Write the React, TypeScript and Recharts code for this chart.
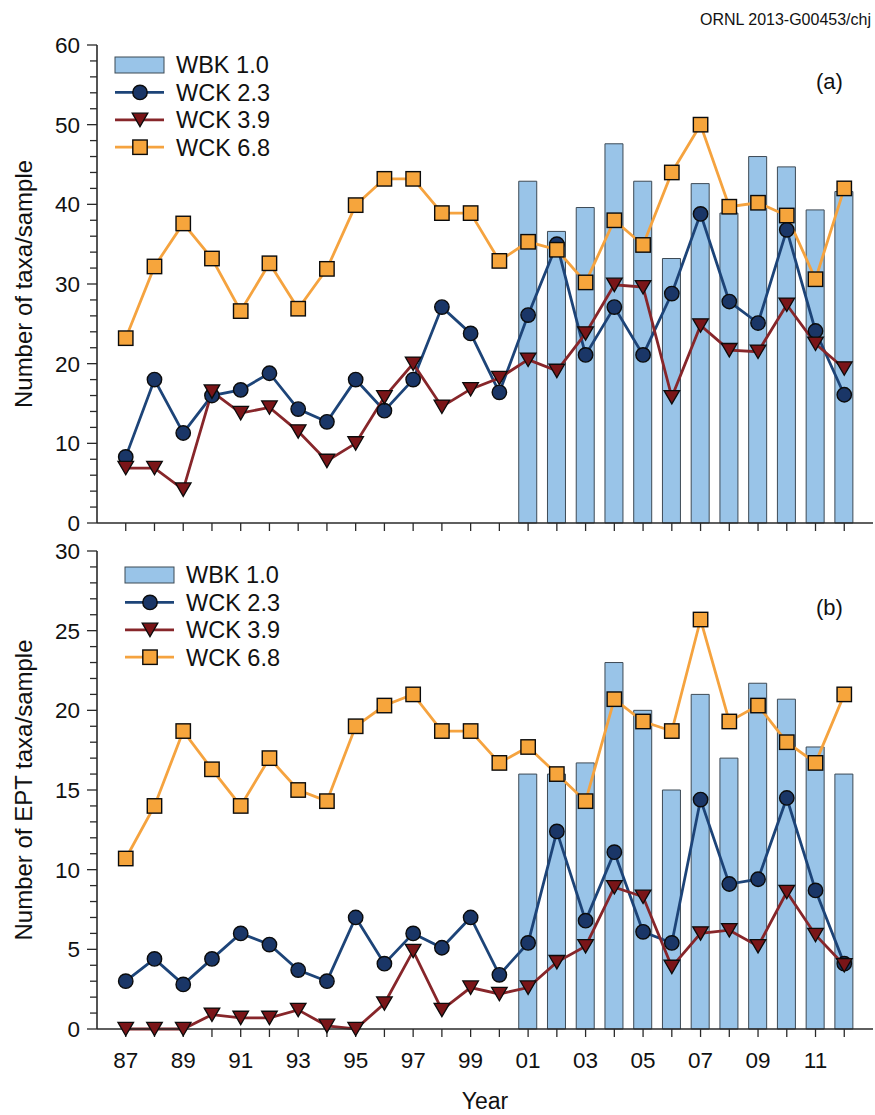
import React from 'react';
import { ComposedChart, Bar, Line, XAxis, YAxis, Legend } from 'recharts';

// Sampling years, 1987–2012
const years = [
  1987, 1988, 1989, 1990, 1991, 1992, 1993, 1994, 1995, 1996, 1997, 1998, 1999,
  2000, 2001, 2002, 2003, 2004, 2005, 2006, 2007, 2008, 2009, 2010, 2011, 2012,
];

// (a) total taxa per sample
const wbkTaxa = [
  null, null, null, null, null, null, null, null, null, null, null, null, null, null,
  42.9, 36.6, 39.6, 47.6, 42.9, 33.2, 42.6, 38.9, 46.0, 44.7, 39.3, 41.6,
];
const wck23Taxa = [
  8.3, 18.0, 11.3, 16.0, 16.7, 18.8, 14.3, 12.7, 18.0, 14.1, 18.0, 27.1, 23.8,
  16.4, 26.1, 35.0, 21.1, 27.1, 21.1, 28.8, 38.8, 27.8, 25.1, 36.8, 24.1, 16.1,
];
const wck39Taxa = [
  6.9, 6.9, 4.2, 16.5, 13.8, 14.5, 11.5, 7.8, 10.0, 15.8, 20.0, 14.6, 16.8,
  18.2, 20.5, 19.1, 23.8, 29.9, 29.6, 15.8, 24.8, 21.7, 21.5, 27.4, 22.5, 19.4,
];
const wck68Taxa = [
  23.2, 32.2, 37.6, 33.2, 26.6, 32.6, 26.9, 31.9, 39.9, 43.2, 43.2, 38.9, 38.9,
  32.9, 35.3, 34.3, 30.2, 38.0, 34.9, 44.0, 50.0, 39.7, 40.2, 38.6, 30.6, 42.0,
];

// (b) EPT taxa per sample
const wbkEpt = [
  null, null, null, null, null, null, null, null, null, null, null, null, null, null,
  16.0, 16.0, 16.7, 23.0, 20.0, 15.0, 21.0, 17.0, 21.7, 20.7, 17.7, 16.0,
];
const wck23Ept = [
  3.0, 4.4, 2.8, 4.4, 6.0, 5.3, 3.7, 3.0, 7.0, 4.1, 6.0, 5.1, 7.0,
  3.4, 5.4, 12.4, 6.8, 11.1, 6.1, 5.4, 14.4, 9.1, 9.4, 14.5, 8.7, 4.1,
];
const wck39Ept = [
  0, 0, 0, 0.9, 0.7, 0.7, 1.2, 0.2, 0, 1.6, 4.9, 1.2, 2.6,
  2.2, 2.6, 4.2, 5.2, 8.9, 8.3, 3.9, 6.0, 6.2, 5.2, 8.6, 5.9, 4.0,
];
const wck68Ept = [
  10.7, 14.0, 18.7, 16.3, 14.0, 17.0, 15.0, 14.3, 19.0, 20.3, 21.0, 18.7, 18.7,
  16.7, 17.7, 16.0, 14.3, 20.7, 19.3, 18.7, 25.7, 19.3, 20.3, 18.0, 16.7, 21.0,
];

// y ticks (majors get a label)
const taxaTicks = [
  0, 2, 4, 6, 8, 10, 12, 14, 16, 18, 20, 22, 24, 26, 28, 30,
  32, 34, 36, 38, 40, 42, 44, 46, 48, 50, 52, 54, 56, 58, 60,
];
const eptTicks = [
  0, 1, 2, 3, 4, 5, 6, 7, 8, 9, 10, 11, 12, 13, 14, 15,
  16, 17, 18, 19, 20, 21, 22, 23, 24, 25, 26, 27, 28, 29, 30,
];

const FONT = 'Arial, "Liberation Sans", Helvetica, sans-serif';
const INK = '#111';
const AXIS = '#2a2a2a';

const BAR_FILL = '#99c4e8';
const NAVY = '#1d4478';
const MAROON = '#87262a';
const ORANGE = '#f5a33f';

const circleDot = (p: any) =>
  p.cx == null || p.cy == null ? <g key={`c${p.index}`} /> : (
    <circle key={`c${p.index}`} cx={p.cx} cy={p.cy} r={7.2} fill="#1a3667" stroke="#0b0b0b" strokeWidth={1.4} />
  );

const triangleDot = (p: any) =>
  p.cx == null || p.cy == null ? <g key={`t${p.index}`} /> : (
    <polygon
      key={`t${p.index}`}
      points={`${p.cx - 7.8},${p.cy - 6.6} ${p.cx + 7.8},${p.cy - 6.6} ${p.cx},${p.cy + 6.8}`}
      fill="#7a1518"
      stroke="#0b0b0b"
      strokeWidth={1.3}
    />
  );

const squareDot = (p: any) =>
  p.cx == null || p.cy == null ? <g key={`s${p.index}`} /> : (
    <rect key={`s${p.index}`} x={p.cx - 7.2} y={p.cy - 7.2} width={14.4} height={14.4} fill="#f6a53c" stroke="#0b0b0b" strokeWidth={1.4} />
  );

const legendRows = [
  { name: 'WBK 1.0', kind: 'bar' },
  { name: 'WCK 2.3', kind: 'circle', color: NAVY },
  { name: 'WCK 3.9', kind: 'triangle', color: MAROON },
  { name: 'WCK 6.8', kind: 'square', color: ORANGE },
];

const LegendBox = () => (
  <svg width={200} height={115} style={{ display: 'block', overflow: 'visible' }}>
    {legendRows.map((row, i) => {
      const cy = 15 + i * 27.4;
      const mid = 30;
      let symbol: React.ReactNode;
      if (row.kind === 'bar') {
        symbol = <rect x={5} y={cy - 8} width={49} height={16} fill={BAR_FILL} stroke="#3d4a55" strokeWidth={1} />;
      } else {
        const marker =
          row.kind === 'circle' ? circleDot({ cx: mid, cy, index: 'l' })
          : row.kind === 'triangle' ? triangleDot({ cx: mid, cy, index: 'l' })
          : squareDot({ cx: mid, cy, index: 'l' });
        symbol = (
          <g>
            <line x1={5} x2={54} y1={cy} y2={cy} stroke={row.color} strokeWidth={2.8} />
            {marker}
          </g>
        );
      }
      return (
        <g key={row.name}>
          {symbol}
          <text x={66} y={cy} dy="0.36em" fontSize={23.5} fontFamily={FONT} fill={INK}>
            {row.name}
          </text>
        </g>
      );
    })}
  </svg>
);

// Left axis tick: long tick + label on majors, short tick on minors
const makeYTick = (major: number) => (props: any) => {
  const { x, y, payload } = props;
  const isMajor = Math.abs(payload.value % major) < 1e-9;
  return (
    <g>
      <line x1={x - (isMajor ? 10 : 7)} x2={x} y1={y} y2={y} stroke={AXIS} strokeWidth={1.3} />
      {isMajor && (
        <text x={x - 17} y={y} dy="0.36em" textAnchor="end" fontSize={22.5} fontFamily={FONT} fill={INK}>
          {payload.value}
        </text>
      )}
    </g>
  );
};

const yearLabel = (v: number) => (v % 2 === 1 ? String(v % 100).padStart(2, '0') : '');

interface PanelProps {
  wbk: (number | null)[];
  wck23: number[];
  wck39: number[];
  wck68: number[];
  yTicks: number[];
  major: number;
  yLabel: string;
  height: number;
  top: number;
  marginTop: number;
  xAxisHeight: number;
  showYears: boolean;
  legendTop: number;
  legendLeft: number;
}

const Panel = (p: PanelProps) => {
  const rows = years.map((year, i) => ({
    year,
    wbk: p.wbk[i],
    wck23: p.wck23[i],
    wck39: p.wck39[i],
    wck68: p.wck68[i],
  }));
  const yMax = p.yTicks[p.yTicks.length - 1];
  return (
    <div style={{ position: 'absolute', left: 0, top: p.top }}>
      <ComposedChart
        width={875}
        height={p.height}
        data={rows}
        margin={{ top: p.marginTop, right: 2, bottom: 0, left: 0 }}
      >
        <XAxis
          dataKey="year"
          type="number"
          domain={[1986, 2013]}
          ticks={years}
          interval={0}
          height={p.xAxisHeight}
          tickSize={8}
          tickMargin={15}
          tickFormatter={p.showYears ? yearLabel : () => ''}
          axisLine={{ stroke: AXIS, strokeWidth: 1.6 }}
          tickLine={{ stroke: AXIS, strokeWidth: 1.3 }}
          tick={{ fontSize: 22.5, fontFamily: FONT, fill: INK }}
          label={
            p.showYears
              ? { value: 'Year', position: 'insideBottom', offset: 6, fontSize: 23, fontFamily: FONT, fill: INK }
              : undefined
          }
        />
        <XAxis
          xAxisId="frameTop"
          orientation="top"
          type="number"
          domain={[1986, 2013]}
          height={0}
          tick={false}
          tickLine={false}
          axisLine={{ stroke: AXIS, strokeWidth: 1.6 }}
        />
        <YAxis
          type="number"
          domain={[0, yMax]}
          ticks={p.yTicks}
          interval={0}
          width={97}
          tickSize={0}
          tickMargin={0}
          tickLine={false}
          tick={makeYTick(p.major)}
          axisLine={{ stroke: AXIS, strokeWidth: 1.6 }}
          label={{
            value: p.yLabel,
            angle: -90,
            position: 'insideLeft',
            offset: 23,
            style: { textAnchor: 'middle' },
            fontSize: 24,
            fontFamily: FONT,
            fill: INK,
          }}
        />
        <YAxis
          yAxisId="frameRight"
          orientation="right"
          type="number"
          domain={[0, yMax]}
          width={0}
          tick={false}
          tickLine={false}
          axisLine={{ stroke: AXIS, strokeWidth: 1.6 }}
        />
        <Legend
          layout="vertical"
          align="center"
          verticalAlign="middle"
          content={<LegendBox />}
          wrapperStyle={{ top: p.legendTop, left: p.legendLeft, width: 'auto', height: 'auto' }}
        />
        <Bar
          dataKey="wbk"
          name="WBK 1.0"
          barSize={18}
          fill={BAR_FILL}
          stroke="#3d4a55"
          strokeWidth={1}
          isAnimationActive={false}
        />
        <Line
          dataKey="wck23"
          name="WCK 2.3"
          type="linear"
          stroke={NAVY}
          strokeWidth={2.8}
          dot={circleDot}
          activeDot={false}
          isAnimationActive={false}
        />
        <Line
          dataKey="wck39"
          name="WCK 3.9"
          type="linear"
          stroke={MAROON}
          strokeWidth={2.8}
          dot={triangleDot}
          activeDot={false}
          isAnimationActive={false}
        />
        <Line
          dataKey="wck68"
          name="WCK 6.8"
          type="linear"
          stroke={ORANGE}
          strokeWidth={2.8}
          dot={squareDot}
          activeDot={false}
          isAnimationActive={false}
        />
      </ComposedChart>
    </div>
  );
};

const tagStyle: React.CSSProperties = {
  position: 'absolute',
  fontFamily: FONT,
  fontSize: 22,
  color: INK,
  lineHeight: 1,
};

export default function App() {
  return (
    <div style={{ position: 'absolute', left: 0, top: 0, width: 875, height: 1115, background: '#fff' }}>
      <Panel
        wbk={wbkTaxa}
        wck23={wck23Taxa}
        wck39={wck39Taxa}
        wck68={wck68Taxa}
        yTicks={taxaTicks}
        major={10}
        yLabel="Number of taxa/sample"
        height={540}
        top={0}
        marginTop={45}
        xAxisHeight={17}
        showYears={false}
        legendTop={50}
        legendLeft={110}
      />
      <Panel
        wbk={wbkEpt}
        wck23={wck23Ept}
        wck39={wck39Ept}
        wck68={wck68Ept}
        yTicks={eptTicks}
        major={5}
        yLabel="Number of EPT taxa/sample"
        height={585}
        top={530}
        marginTop={21}
        xAxisHeight={86}
        showYears={true}
        legendTop={30}
        legendLeft={120}
      />
      <div style={{ ...tagStyle, left: 816, top: 71 }}>(a)</div>
      <div style={{ ...tagStyle, left: 816, top: 597 }}>(b)</div>
      <div style={{ ...tagStyle, fontSize: 16, right: 4, left: 'auto', top: 12, whiteSpace: 'nowrap' }}>
        ORNL 2013-G00453/chj
      </div>
    </div>
  );
}
